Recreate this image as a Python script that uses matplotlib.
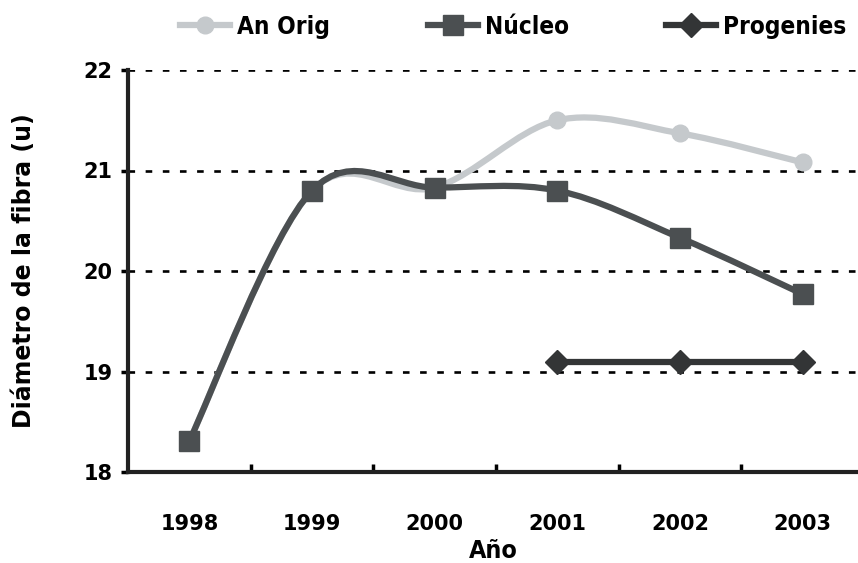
import matplotlib
matplotlib.use("Agg")
import matplotlib.pyplot as plt
from matplotlib.path import Path
from matplotlib.patches import PathPatch
from matplotlib.lines import Line2D
import numpy as np

years = ["1998", "1999", "2000", "2001", "2002", "2003"]
an_orig = [18.31, 20.80, 20.83, 21.50, 21.37, 21.08]
nucleo = [18.31, 20.80, 20.83, 20.80, 20.33, 19.77]
progenies_years = ["2001", "2002", "2003"]
progenies = [19.09, 19.09, 19.09]
yticks = [18, 19, 20, 21, 22]
series_names = ["An Orig", "Núcleo", "Progenies"]

c_orig = "#c5c9cc"
c_nuc = "#4b4f51"
c_prog = "#333536"

fig = plt.figure(figsize=(8.58, 5.63), dpi=100)
ax = fig.add_axes([128/858, 1-472/563, 1-128/858, (472-70)/563])


def smooth_path(xs, ys):
    pts = list(zip(xs, ys))
    n = len(pts)
    verts = [pts[0]]
    codes = [Path.MOVETO]
    for i in range(n - 1):
        p0 = pts[i - 1] if i > 0 else pts[i]
        p1 = pts[i]
        p2 = pts[i + 1]
        p3 = pts[i + 2] if i + 2 < n else pts[i + 1]
        c1 = (p1[0] + (p2[0] - p0[0]) / 6, p1[1] + (p2[1] - p0[1]) / 6)
        c2 = (p2[0] - (p3[0] - p1[0]) / 6, p2[1] - (p3[1] - p1[1]) / 6)
        verts += [c1, c2, p2]
        codes += [Path.CURVE4] * 3
    return Path(verts, codes)


xi = list(range(len(years)))
xp = [years.index(y) for y in progenies_years]

lw = 4.5
ax.add_patch(PathPatch(smooth_path(xi, an_orig), fill=False, edgecolor=c_orig, lw=lw, zorder=3, capstyle="round"))
ax.plot(xi, an_orig, ls="none", marker="o", ms=12, color=c_orig, zorder=4)

ax.add_patch(PathPatch(smooth_path(xi, nucleo), fill=False, edgecolor=c_nuc, lw=lw, zorder=5, capstyle="round"))
ax.plot(xi, nucleo, ls="none", marker="s", ms=14, color=c_nuc, zorder=6)

ax.plot(xp, progenies, color=c_prog, lw=lw, marker="D", ms=12, zorder=7)

ax.set_xlim(-0.5, 5.45)
ax.set_ylim(18, 22)
ax.set_yticks(yticks)
ax.set_yticklabels([str(v) for v in yticks], fontsize=15, fontweight="bold")
ax.set_xticks(xi)
ax.set_xticklabels(years, fontsize=15, fontweight="bold")
ax.tick_params(axis="x", length=0, pad=30)
ax.set_xticks([i + 0.5 for i in range(5)], minor=True)
ax.tick_params(axis="x", which="minor", direction="in", length=6, width=2.5)
ax.tick_params(axis="y", direction="out", length=5, width=2.5, pad=6)

for v in yticks[1:]:
    ax.axhline(v, color="black", lw=1.9, ls=(0, (2.5, 4)), zorder=1)

for s in ["top", "right"]:
    ax.spines[s].set_visible(False)
for s in ["left", "bottom"]:
    ax.spines[s].set_linewidth(3)
    ax.spines[s].set_color("#222222")

ax.set_ylabel("Diámetro de la fibra (u)", fontsize=17, fontweight="bold", labelpad=34)
ax.set_xlabel("Año", fontsize=18, fontweight="bold", fontstretch="condensed", labelpad=4)

handles = [
    Line2D([], [], color=c_orig, lw=lw, marker="o", ms=12),
    Line2D([], [], color=c_nuc, lw=lw, marker="s", ms=14),
    Line2D([], [], color=c_prog, lw=lw, marker="D", ms=12),
]
anchors = [180, 428, 666]
for h, name, xa in zip(handles, series_names, anchors):
    fig.legend([h], [name], loc="center left", bbox_to_anchor=(xa/858, 1-27/563),
               frameon=False, handlelength=2.05, handletextpad=0.3, borderpad=0, borderaxespad=0,
               prop={"weight": "bold", "size": 17.5, "stretch": "condensed"})

fig.savefig("out.png", dpi=100)
